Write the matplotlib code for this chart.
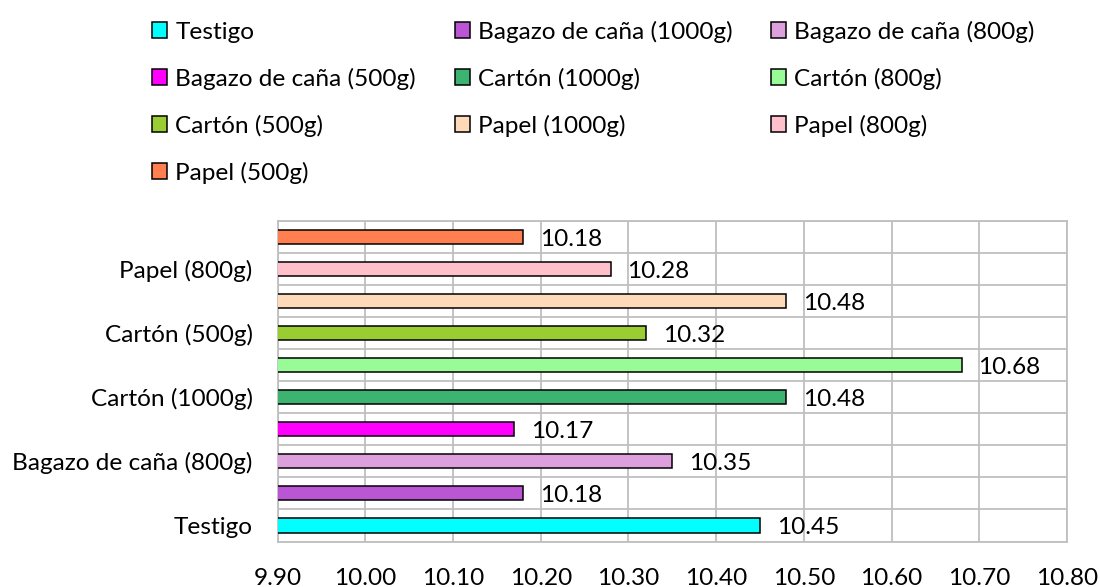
import matplotlib
matplotlib.use("Agg")
import matplotlib.pyplot as plt
from matplotlib.ticker import FormatStrFormatter
import numpy as np

categories = ["Testigo", "Bagazo de caña (1000g)", "Bagazo de caña (800g)",
              "Bagazo de caña (500g)", "Cartón (1000g)", "Cartón (800g)",
              "Cartón (500g)", "Papel (1000g)", "Papel (800g)", "Papel (500g)"]
values = [10.45, 10.18, 10.35, 10.17, 10.48, 10.68, 10.32, 10.48, 10.28, 10.18]
colors = ["#00FFFF", "#BA55D3", "#DDA0DD", "#FF00FF", "#3CB371", "#98FB98",
          "#9ACD32", "#FFDAB9", "#FFC0CB", "#FF7F50"]
x_ticks = [9.90, 10.00, 10.10, 10.20, 10.30, 10.40, 10.50, 10.60, 10.70, 10.80]

plt.rcParams['font.family'] = ['Lato', 'DejaVu Sans']
FS = 17.6

fig = plt.figure(figsize=(11, 5.87), dpi=100)
ax = fig.add_axes([0.2523, 0.0775, 0.9700 - 0.2523, 0.6235 - 0.0775])

handles = []
for i, (cat, v, c) in enumerate(zip(categories, values, colors)):
    bc = ax.barh(i, v, height=0.44, color=c, edgecolor='black', linewidth=1.1,
                 label=cat, zorder=3)
    handles.append(bc)
    ax.annotate(f"{v:.2f}", xy=(v, i), xytext=(12, -1.5), textcoords='offset points',
                ha='left', va='center', fontsize=FS, color='#000000', zorder=4)

ax.set_xlim(x_ticks[0], x_ticks[-1])
ax.set_ylim(-0.5, len(categories) - 0.5)
ax.set_xticks(x_ticks)
ax.xaxis.set_major_formatter(FormatStrFormatter('%.2f'))
ax.set_yticks(range(len(categories)))
ax.set_yticklabels([c if i % 2 == 0 else "" for i, c in enumerate(categories)])
ax.set_yticks(np.arange(-0.5, len(categories), 1.0), minor=True)
ax.tick_params(axis='both', which='both', length=0, labelsize=FS)
ax.tick_params(axis='x', pad=19)
ax.tick_params(axis='y', pad=18)
ax.grid(True, axis='x', which='major', color='#BFBFBF', linewidth=1.3, zorder=0)
ax.grid(True, axis='y', which='minor', color='#BFBFBF', linewidth=1.3, zorder=0)
ax.grid(False, axis='y', which='major')
for s in ax.spines.values():
    s.set_color('#BFBFBF')
    s.set_linewidth(1.3)

order = [0, 3, 6, 9, 1, 4, 7, 2, 5, 8]
leg = fig.legend([handles[k] for k in order], [categories[k] for k in order],
                 ncol=3, loc='upper left', bbox_to_anchor=(0.123, 0.994),
                 frameon=False, fontsize=FS, handlelength=0.6, handleheight=0.6,
                 handletextpad=0.33, labelspacing=1.02, columnspacing=1.6,
                 borderaxespad=0.3)
for p in leg.get_patches():
    p.set_linewidth(1.1)

fig.savefig("out.png", dpi=100)
